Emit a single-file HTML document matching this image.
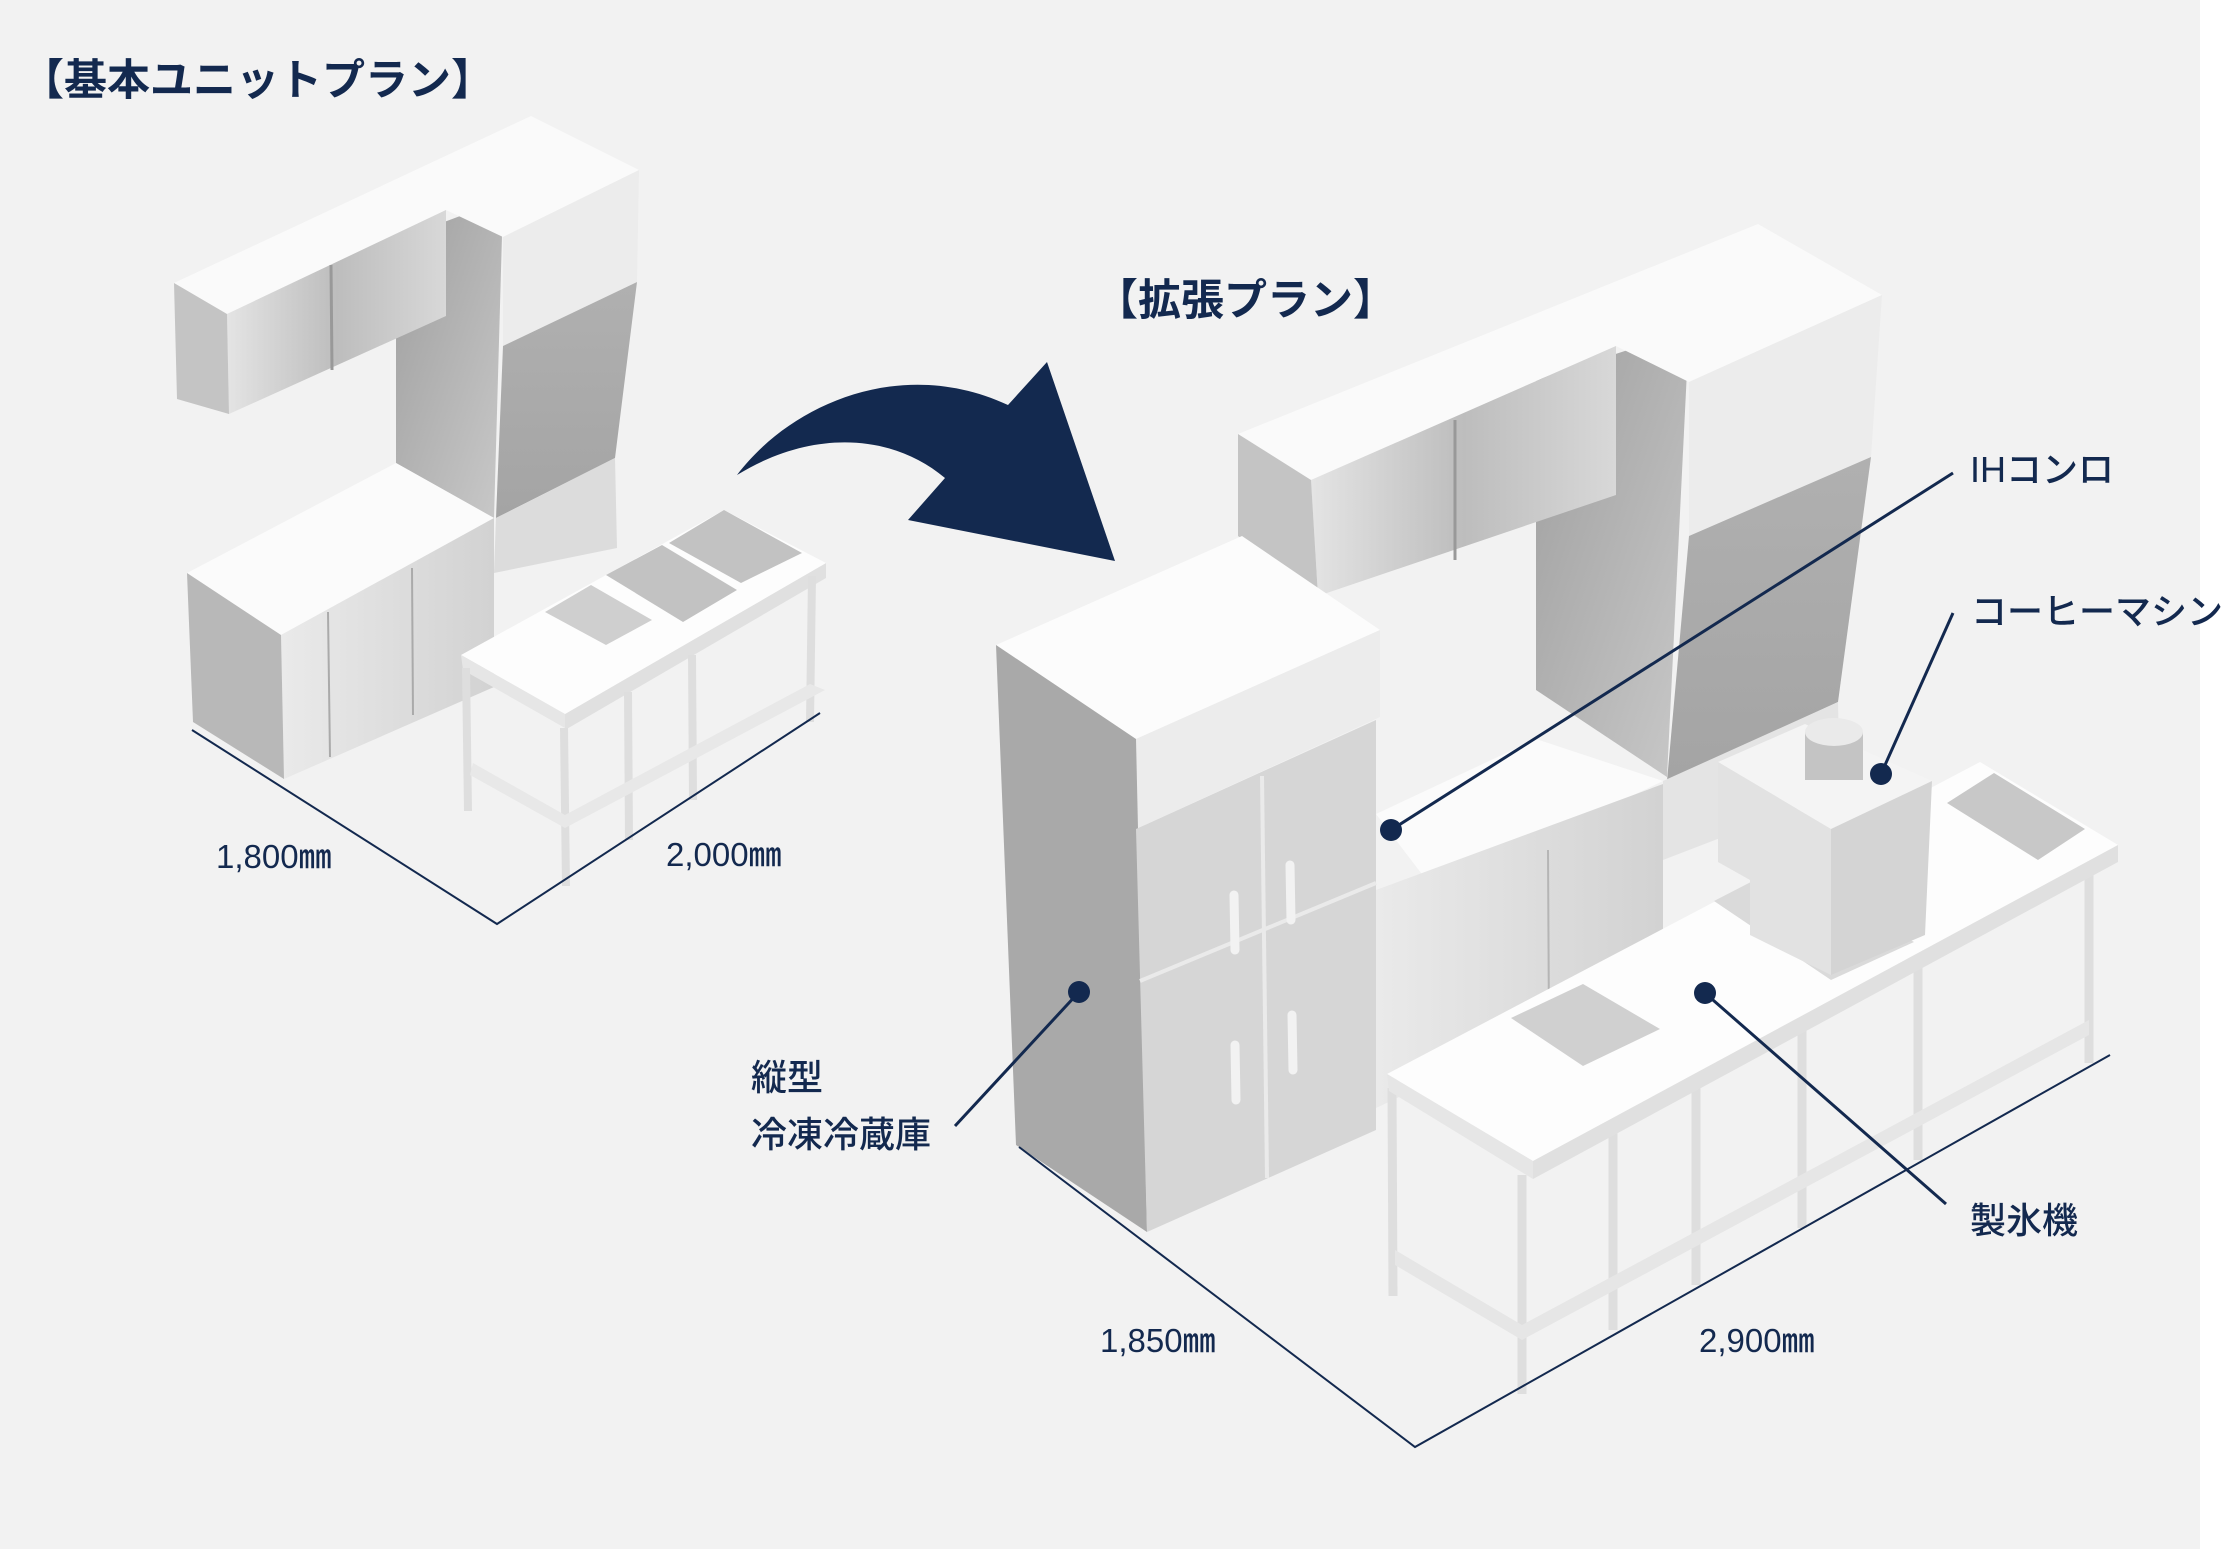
<!DOCTYPE html>
<html><head><meta charset="utf-8"><style>
html,body{margin:0;padding:0;background:#fff;}
svg{display:block}
text{font-family:"Liberation Sans","Noto Sans CJK JP",sans-serif;fill:#13294f}
</style></head><body>
<svg width="2235" height="1553" viewBox="0 0 2235 1553" xmlns="http://www.w3.org/2000/svg">
<defs>
<linearGradient id="g1" x1="0" y1="0" x2="1" y2="0"><stop offset="0" stop-color="#e4e4e4"/><stop offset=".5" stop-color="#bdbdbd"/><stop offset="1" stop-color="#d8d8d8"/></linearGradient>
<linearGradient id="g2" x1="0" y1="0" x2="1" y2="1"><stop offset="0" stop-color="#9e9e9e"/><stop offset="1" stop-color="#c9c9c9"/></linearGradient>
<linearGradient id="g3" x1="0" y1="0" x2="0" y2="1"><stop offset="0" stop-color="#b0b0b0"/><stop offset="1" stop-color="#a4a4a4"/></linearGradient>
<linearGradient id="g4" x1="0" y1="0" x2="1" y2="0"><stop offset="0" stop-color="#eaeaea"/><stop offset="1" stop-color="#d2d2d2"/></linearGradient>
</defs>
<rect x="0" y="0" width="2200" height="1549" fill="#f2f2f2"/>

<text x="21" y="95" font-size="43" font-weight="700">【基本ユニットプラン】</text>
<text x="1095" y="315" font-size="43" font-weight="700">【拡張プラン】</text>

<path d="M737,475 C790,405 900,355 1008,405 L1047,362 L1115,561 L908,520 L945,478 C890,432 810,430 737,475 Z" fill="#13294f"/>

<!-- ===== BASIC UNIT ===== -->
<polygon points="396,240 503,200 494,518 396,463" fill="url(#g2)"/>
<polygon points="174,283 531,116 639,170 503,237 446,210 227,314" fill="#fafafa"/>
<polygon points="227,314 446,210 446,316 229,414" fill="url(#g1)"/>
<line x1="331" y1="265" x2="332" y2="370" stroke="#999" stroke-width="3"/>
<polygon points="174,283 227,314 229,414 177,399" fill="#c4c4c4"/>
<polygon points="503,237 639,170 637,282 503,346" fill="#ececec"/>
<polygon points="503,346 637,282 615,458 496,518" fill="url(#g3)"/>
<polygon points="496,518 615,458 617,548 494,573" fill="#dcdcdc"/>
<polygon points="187,573 396,463 494,518 281,635" fill="#fbfbfb"/>
<polygon points="281,635 494,518 494,687 284,779" fill="url(#g4)"/>
<line x1="328" y1="612" x2="330" y2="757" stroke="#aaa" stroke-width="2"/>
<line x1="412" y1="568" x2="413" y2="715" stroke="#aaa" stroke-width="2"/>
<polygon points="187,573 281,635 284,779 193,722" fill="#b8b8b8"/>
<polygon points="565,714 826,563 826,578 565,730" fill="#e0e0e0"/>
<polygon points="461,655 724,510 826,563 565,714" fill="#fdfdfd"/>
<polygon points="545,612 591,585 652,620 606,645" fill="#cfcfcf"/>
<polygon points="606,575 662,545 737,590 683,622" fill="#c2c2c2"/>
<polygon points="669,543 724,510 802,553 741,583" fill="#c2c2c2"/>
<polygon points="461,655 565,714 565,728 463,670" fill="#e6e6e6"/>
<g stroke="#dedede" stroke-width="8" fill="none">
<line x1="466" y1="668" x2="468" y2="811"/>
<line x1="564" y1="728" x2="566" y2="886"/>
<line x1="628" y1="692" x2="629" y2="840"/>
<line x1="692" y1="655" x2="693" y2="800"/>
<line x1="812" y1="576" x2="810" y2="722"/>
</g>
<polygon points="470,775 565,828 825,690 810,684 565,815 473,763" fill="#e8e8e8"/>
<polyline points="192,730 497,924 820,713" fill="none" stroke="#13294f" stroke-width="2"/>
<text x="216" y="868" font-size="33" font-weight="500">1,800㎜</text>
<text x="666" y="866" font-size="33" font-weight="500">2,000㎜</text>

<!-- ===== EXPANDED ===== -->
<polygon points="1536,380 1689,330 1667,777 1536,690" fill="url(#g2)"/>
<polygon points="1238,434 1758,224 1882,295 1689,382 1616,346 1311,480" fill="#fafafa"/>
<polygon points="1311,480 1616,346 1616,495 1318,596" fill="url(#g1)"/>
<line x1="1455" y1="420" x2="1455" y2="560" stroke="#999" stroke-width="3"/>
<polygon points="1238,434 1311,480 1318,596 1238,536" fill="#c4c4c4"/>
<polygon points="1689,382 1882,295 1871,457 1689,536" fill="#ececec"/>
<polygon points="1689,536 1871,457 1838,702 1667,781" fill="url(#g3)"/>
<polygon points="1376,814 1536,739 1663,781 1434,890" fill="#fbfbfb"/>
<polygon points="1376,890 1663,784 1663,972 1376,1108" fill="url(#g4)"/>
<line x1="1548" y1="850" x2="1549" y2="1030" stroke="#b5b5b5" stroke-width="2"/>
<polygon points="1663,781 1838,702 1840,792 1663,860" fill="#e4e4e4"/>
<polygon points="996,645 1242,536 1380,630 1136,739" fill="#fcfcfc"/>
<polygon points="1136,739 1380,630 1380,717 1136,829" fill="#ececec"/>
<polygon points="996,645 1136,739 1147,1232 1016,1145" fill="#a9a9a9"/>
<polygon points="1136,829 1376,720 1376,1130 1147,1232" fill="#d6d6d6"/>
<g stroke="#eaeaea" stroke-width="4" fill="none">
<line x1="1140" y1="981" x2="1376" y2="883"/>
<line x1="1262" y1="776" x2="1267" y2="1178"/>
</g>
<g stroke="#f2f2f2" stroke-width="9" stroke-linecap="round" fill="none">
<line x1="1234" y1="895" x2="1235" y2="950"/><line x1="1290" y1="865" x2="1291" y2="920"/>
<line x1="1235" y1="1045" x2="1236" y2="1100"/><line x1="1292" y1="1015" x2="1293" y2="1070"/>
</g>
<g stroke="#dedede" stroke-width="9" fill="none">
<line x1="1392" y1="1088" x2="1393" y2="1296"/>
<line x1="1522" y1="1175" x2="1522" y2="1394"/>
<line x1="1613" y1="1130" x2="1613" y2="1330"/>
<line x1="1696" y1="1085" x2="1696" y2="1285"/>
<line x1="1802" y1="1030" x2="1802" y2="1228"/>
<line x1="1918" y1="968" x2="1918" y2="1160"/>
<line x1="2089" y1="870" x2="2089" y2="1063"/>
</g>
<polygon points="1395,1250 1522,1325 2089,1020 2089,1035 1522,1340 1395,1265" fill="#e6e6e6"/>
<polygon points="1387,1074 1533,1161 2118,845 1980,762" fill="#fdfdfd"/>
<polygon points="1533,1161 2118,845 2118,862 1533,1179" fill="#e0e0e0"/>
<polygon points="1387,1074 1533,1161 1533,1179 1389,1091" fill="#e6e6e6"/>
<polygon points="1511,1018 1583,984 1660,1029 1583,1066" fill="#d0d0d0"/>
<polygon points="1947,803 1994,773 2085,829 2038,860" fill="#c8c8c8"/>
<polygon points="1714,901 1780,867 1914,942 1831,980" fill="#dadada"/>
<polygon points="1718,762 1805,724 1932,781 1831,829" fill="#f4f4f4"/>
<polygon points="1831,829 1932,781 1925,935 1831,975" fill="#d4d4d4"/>
<polygon points="1718,762 1831,829 1831,975 1750,935 1750,880 1718,862" fill="#e2e2e2"/>
<rect x="1805" y="732" width="58" height="48" fill="#c4c4c4"/>
<ellipse cx="1834" cy="732" rx="29" ry="14" fill="#eaeaea"/>
<polyline points="1019,1147 1415,1447 2110,1055" fill="none" stroke="#13294f" stroke-width="2"/>
<text x="1100" y="1352" font-size="33" font-weight="500">1,850㎜</text>
<text x="1699" y="1352" font-size="33" font-weight="500">2,900㎜</text>

<g stroke="#13294f" stroke-width="3" fill="none">
<line x1="1391" y1="830" x2="1953" y2="473"/>
<line x1="1881" y1="774" x2="1953" y2="613"/>
<line x1="1705" y1="993" x2="1946" y2="1204"/>
<line x1="1079" y1="992" x2="955" y2="1126"/>
</g>
<g fill="#13294f">
<circle cx="1391" cy="830" r="11"/><circle cx="1881" cy="774" r="11"/>
<circle cx="1705" cy="993" r="11"/><circle cx="1079" cy="992" r="11"/>
</g>
<text x="1970" y="482" font-size="36" font-weight="500">IHコンロ</text>
<text x="1971" y="624" font-size="36" font-weight="500">コーヒーマシン</text>
<text x="1970" y="1233" font-size="36" font-weight="500">製氷機</text>
<text x="751" y="1090" font-size="36" font-weight="500">縦型</text>
<text x="751" y="1147" font-size="36" font-weight="500">冷凍冷蔵庫</text>
</svg>
</body></html>
